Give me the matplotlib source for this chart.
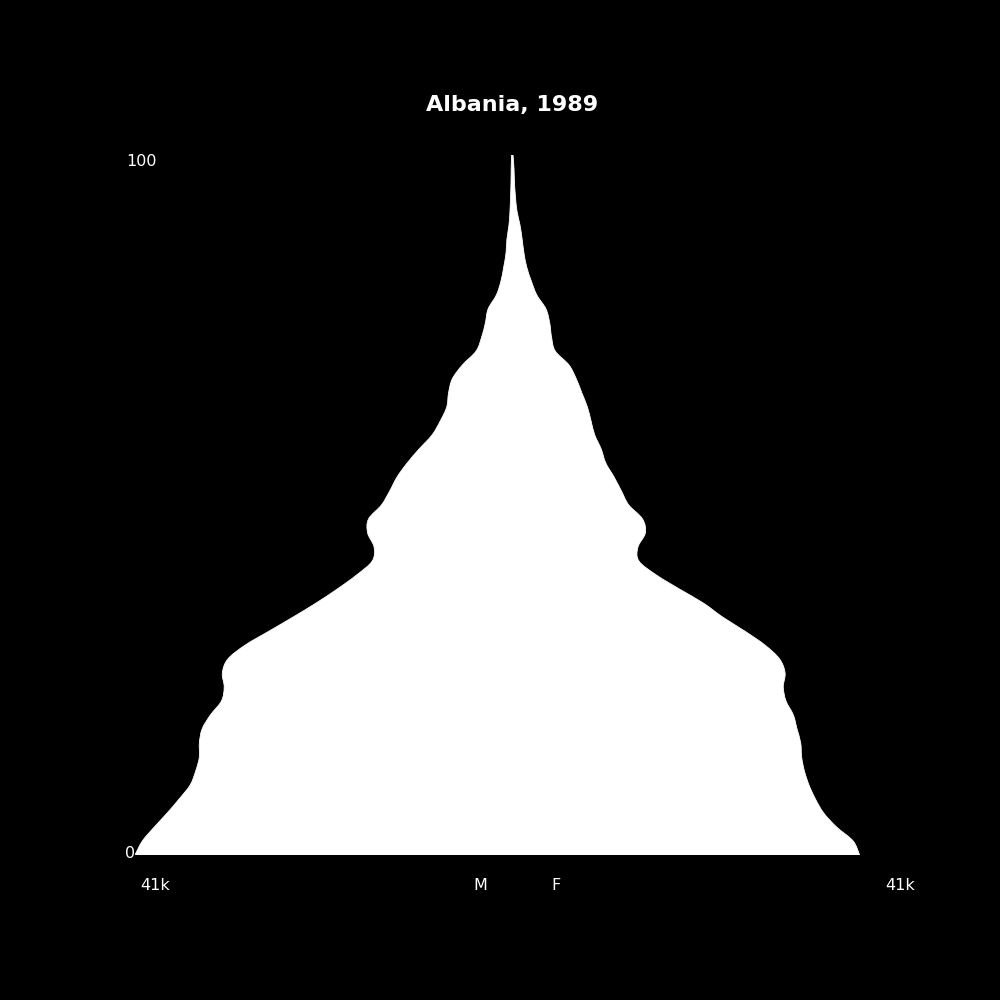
import matplotlib
matplotlib.use("Agg")
import matplotlib.pyplot as plt
from matplotlib.path import Path
from matplotlib.patches import PathPatch
import numpy as np

# ages 0..100 in steps of 2, population in thousands
ages = np.arange(0, 101, 2)
male_k = [41.0, 40.2, 38.9, 37.5, 36.2, 35.0, 34.4, 34.0, 34.0, 33.7,
          32.8, 31.6, 31.3, 31.5, 30.9, 29.0, 26.4, 23.8, 21.3, 19.0,
          16.9, 15.2, 15.0, 15.7, 15.6, 14.2, 13.3, 12.5, 11.4, 10.1,
          8.7, 7.8, 7.1, 6.9, 6.5, 5.4, 3.9, 3.3, 2.9, 2.6,
          1.7, 1.2, 0.9, 0.65, 0.55, 0.33, 0.22, 0.16, 0.11, 0.09, 0.05]
female_k = [37.8, 37.1, 35.3, 33.9, 33.0, 32.3, 31.8, 31.5, 31.4, 31.0,
            30.6, 29.8, 29.5, 29.7, 29.1, 27.5, 25.3, 22.9, 20.8, 18.2,
            15.7, 13.8, 13.7, 14.5, 14.2, 12.7, 11.9, 11.1, 10.2, 9.7,
            9.0, 8.6, 8.2, 7.6, 7.0, 6.2, 4.7, 4.3, 4.1, 3.7,
            2.7, 2.1, 1.6, 1.3, 1.1, 0.87, 0.54, 0.38, 0.27, 0.22, 0.11]

title = "Albania, 1989"
max_label = "41k"


def smooth_segments(pts):
    # catmull-rom -> cubic bezier, returns vertices/codes after the first point
    verts, codes = [], []
    n = len(pts)
    for i in range(n - 1):
        p0 = pts[max(i - 1, 0)]
        p1 = pts[i]
        p2 = pts[i + 1]
        p3 = pts[min(i + 2, n - 1)]
        c1 = p1 + (p2 - p0) / 6.0
        c2 = p2 - (p3 - p1) / 6.0
        verts += [c1, c2, p2]
        codes += [Path.CURVE4] * 3
    return verts, codes


fig = plt.figure(figsize=(10, 10), dpi=100, facecolor="black")
ax = fig.add_axes([0.135, 0.145, 0.754, 0.70])
ax.set_facecolor("black")

left = np.column_stack([-np.array(male_k), ages])
right = np.column_stack([np.array(female_k), ages])[::-1]

verts = [left[0]]
codes = [Path.MOVETO]
v, c = smooth_segments(left)
verts += v
codes += c
verts.append(right[0])
codes.append(Path.LINETO)
v, c = smooth_segments(right)
verts += v
codes += c
verts.append(left[0])
codes.append(Path.CLOSEPOLY)

shape = PathPatch(Path(np.array(verts), codes), facecolor="white",
                  edgecolor="white", lw=0.6)
ax.add_patch(shape)

ax.set_xlim(-41, 41)
ax.set_ylim(0, 100)
ax.axis("off")

fig.text(0.512, 0.895, title, color="white", fontsize=16, fontweight="bold",
         ha="center", va="center")
fig.text(0.126, 0.838, "100", color="white", fontsize=11.5, ha="left", va="center")
fig.text(0.125, 0.146, "0", color="white", fontsize=11.5, ha="left", va="center")
fig.text(0.155, 0.115, max_label, color="white", fontsize=11.5, ha="center", va="center")
fig.text(0.900, 0.115, max_label, color="white", fontsize=11.5, ha="center", va="center")
fig.text(0.480, 0.115, "M", color="white", fontsize=11.5, ha="center", va="center")
fig.text(0.556, 0.115, "F", color="white", fontsize=11.5, ha="center", va="center")

fig.savefig("out.png", dpi=100, facecolor="black")
